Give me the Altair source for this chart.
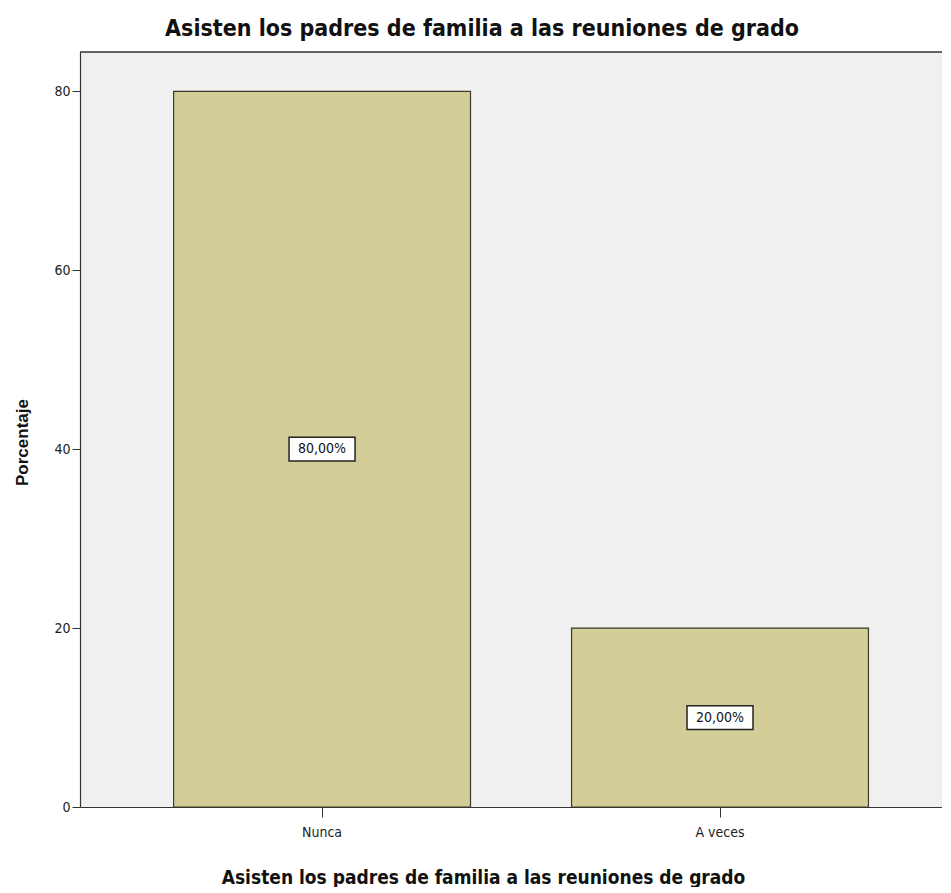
import altair as alt
import pandas as pd

categories = ["Nunca", "A veces"]
percentages = [80.0, 20.0]
labels = ["80,00%", "20,00%"]

title_text = "Asisten los padres de familia a las reuniones de grado"
y_ticks = [0, 20, 40, 60, 80]
y_max = 84.4

NARROW = "DejaVu Sans Condensed, Liberation Sans, sans-serif"

df = pd.DataFrame({"cat": categories, "pct": percentages, "lab": labels})

xscale = alt.Scale(domain=categories, paddingInner=0.254, paddingOuter=0.21, align=0.56)
yscale = alt.Scale(domain=[0, y_max], nice=False, zero=True)

base = alt.Chart(df)

bars = base.mark_bar(fill="#D3CE97", stroke="#3b3a2c", strokeWidth=1.2).encode(
    x=alt.X("cat:N", scale=xscale, sort=categories,
            axis=alt.Axis(title=title_text, labelAngle=0, tickSize=10, labelPadding=8,
                          labelFontSize=14, labelColor="#222", labelFont=NARROW,
                          titleFontSize=19, titleFont=NARROW, titleFontWeight="bold",
                          titleX=403, titleY=70, titleBaseline="middle", titleColor="#111",
                          domainColor="#333", tickColor="#333", domainWidth=1.2)),
    y=alt.Y("pct:Q", scale=yscale,
            axis=alt.Axis(title="Porcentaje", values=y_ticks, grid=False, tickSize=8, labelPadding=2,
                          labelFontSize=14, labelColor="#222", labelFont=NARROW,
                          titleFontSize=17, titleFontWeight="bold", titleFont="Liberation Sans",
                          titleX=-58, titleY=390, titleBaseline="middle", titleColor="#111",
                          domainColor="#333", tickColor="#333", domainWidth=1.2)),
)

boxes = base.transform_calculate(mid="datum.pct / 2").mark_point(
    shape="M-1,-0.36L1,-0.36L1,0.36L-1,0.36Z", size=4356, filled=True,
    fill="white", stroke="#222", strokeWidth=1.5, opacity=1
).encode(
    x=alt.X("cat:N", scale=xscale, sort=categories),
    y=alt.Y("mid:Q", scale=yscale),
)

texts = base.transform_calculate(mid="datum.pct / 2").mark_text(
    fontSize=14, font=NARROW, color="#111"
).encode(
    x=alt.X("cat:N", scale=xscale, sort=categories),
    y=alt.Y("mid:Q", scale=yscale),
    text="lab:N",
)

top_rule = alt.Chart(pd.DataFrame({"v": [y_max]})).mark_rule(color="#333", strokeWidth=1.5).encode(
    y=alt.Y("v:Q", scale=yscale)
)

chart = alt.layer(bars, boxes, texts, top_rule).properties(
    width=862, height=755,
    title=alt.TitleParams(title_text, fontSize=23, font=NARROW, fontWeight="bold",
                          color="#111", anchor="middle", dx=-29, offset=10),
    autosize=alt.AutoSizeParams(type="none"),
    padding={"left": 72, "top": 44, "right": 0, "bottom": 80},
).configure(background="white").configure_view(fill="#F0F0F0", stroke=None)

chart.save("out.html", embed_options={"renderer": "svg", "actions": False})
